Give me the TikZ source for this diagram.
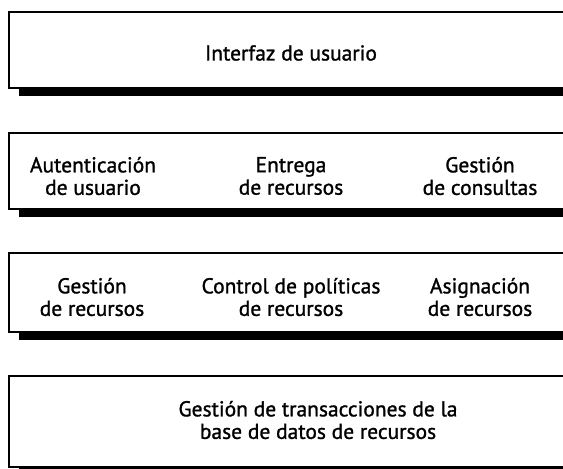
\documentclass[tikz,border=0pt]{standalone}
\usepackage{fontspec}
\setmainfont{PT Sans}
\newfontfamily\lblfont[FakeBold=1.2]{PT Sans}
\usetikzlibrary{shadows}

\begin{document}
\begin{tikzpicture}[x=1pt, y=-1pt,
    layer/.style={draw=black, line width=1.6pt, fill=white, minimum width=564pt, inner sep=0pt,
      drop shadow={shadow xshift=10pt, shadow yshift=-8pt, fill=black, opacity=1}},
    lbl/.style={align=center, font=\lblfont\fontsize{21.5}{22.5}\selectfont, inner sep=0pt}
]
\useasboundingbox (0,0) rectangle (563,469);

% four layers, top to bottom
\node[layer, minimum height=76pt] (interfaz) at (291,50) {};
\node[layer, minimum height=76pt] (servicios) at (291,171) {};
\node[layer, minimum height=79pt] (gestion) at (291,292.5) {};
\node[layer, minimum height=91pt] (basedatos) at (291,421.5) {};

% labels
\node[lbl] (ui) at (291,53) {Interfaz de usuario};

\node[lbl] (auth) at (93,176) {Autenticación\\de usuario};
\node[lbl] (entrega) at (291,176) {Entrega\\de recursos};
\node[lbl] (consultas) at (480,176) {Gestión\\de consultas};

\node[lbl] (recursos) at (92,297) {Gestión\\de recursos};
\node[lbl] (politicas) at (291,297) {Control de políticas\\de recursos};
\node[lbl] (asignacion) at (480,297) {Asignación\\de recursos};

\node[lbl] (transacciones) at (318,420) {Gestión de transacciones de la\\base de datos de recursos};
\end{tikzpicture}
\end{document}
